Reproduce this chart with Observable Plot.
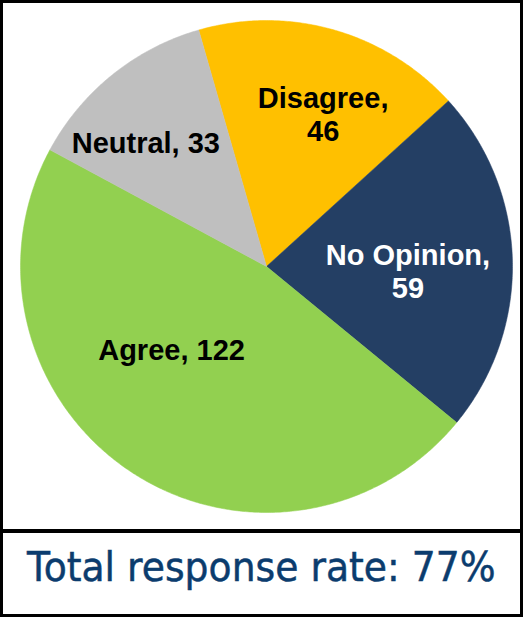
<!DOCTYPE html>
<html>
<head>
<meta charset="utf-8">
<script src="https://cdn.jsdelivr.net/npm/d3@7"></script>
<script src="https://cdn.jsdelivr.net/npm/@observablehq/plot@0.6"></script>
<style>
  html, body { margin: 0; padding: 0; background: #fff; }
  #box { position: absolute; left: 0; top: 0; width: 523px; height: 617px; box-sizing: border-box; border: 3px solid #000; background: #fff; }
  #chart { position: absolute; left: 0; top: 0; }
  #sep { position: absolute; left: 0; top: 526px; width: 517px; height: 4px; background: #000; }
  #cap { position: absolute; left: 24px; top: 544px; font-family: "DejaVu Sans", sans-serif; font-size: 41px; line-height: 41px; color: #0b3c6e; white-space: nowrap; transform: scaleX(0.92); transform-origin: 0 0; -webkit-text-stroke: 0.5px #0b3c6e; }
</style>
</head>
<body>
<div id="box">
  <div id="chart"></div>
  <div id="sep"></div>
  <div id="cap">Total response rate: 77%</div>
</div>
<script>
// ---- data ----
const categories = ["Disagree", "No Opinion", "Agree", "Neutral"];
const counts = [46, 59, 122, 33];
const sliceColors = ["#FFC000", "#243F64", "#92D050", "#BFBFBF"];
const labelColors = ["#000000", "#FFFFFF", "#000000", "#000000"];
const labelWrap = [true, true, false, false];
const startDeg = -16;

// label nudges in pixels (styling)
const labelDx = [15, -11, -10, -25];
const labelDy = [-6, 8, -44, -5];

const rows = categories.map((c, i) => ({category: c, count: counts[i], color: sliceColors[i], labelColor: labelColors[i],
  label: c + "," + (labelWrap[i] ? "\n" : " ") + counts[i], dx: labelDx[i], dy: labelDy[i]}));

const toRad = Math.PI / 180;
const pie = d3.pie().sort(null).value(d => d.count)
  .startAngle(startDeg * toRad).endAngle((startDeg + 360) * toRad);
const arcs = pie(rows);

// polygon vertices of each slice (unit circle, angle clockwise from north)
const pts = [];
arcs.forEach(a => {
  const name = a.data.category, col = a.data.color;
  pts.push({slice: name, color: col, x: 0, y: 0});
  const n = Math.max(2, Math.ceil((a.endAngle - a.startAngle) / (0.5 * toRad)));
  for (let k = 0; k <= n; k++) {
    const t = a.startAngle + (a.endAngle - a.startAngle) * k / n;
    pts.push({slice: name, color: col, x: Math.sin(t), y: Math.cos(t)});
  }
  pts.push({slice: name, color: col, x: 0, y: 0});
});

const labelR = 0.62;
const labels = arcs.map(a => {
  const m = (a.startAngle + a.endAngle) / 2;
  return {...a.data, x: labelR * Math.sin(m), y: labelR * Math.cos(m)};
});

const marks = [
  Plot.line(pts, {x: "x", y: "y", z: "slice", fill: "color", stroke: "color", strokeWidth: 0.5, curve: "linear"})
];
labels.forEach(l => {
  marks.push(Plot.text([l], {x: "x", y: "y", text: "label", fill: l.labelColor, dx: l.dx, dy: l.dy,
    fontSize: 29, fontWeight: "bold", fontFamily: "'Liberation Sans', Arial, sans-serif", lineHeight: 1.15, textAnchor: "middle"}));
});

const plot = Plot.plot({
  width: 517,
  height: 526,
  marginLeft: 17,
  marginRight: 8,
  marginTop: 17,
  marginBottom: 17,
  x: {domain: [-1, 1], axis: null},
  y: {domain: [-1, 1], axis: null},
  color: {type: "identity"},
  style: {background: "transparent"},
  marks
});
document.getElementById("chart").appendChild(plot);
</script>
</body>
</html>
